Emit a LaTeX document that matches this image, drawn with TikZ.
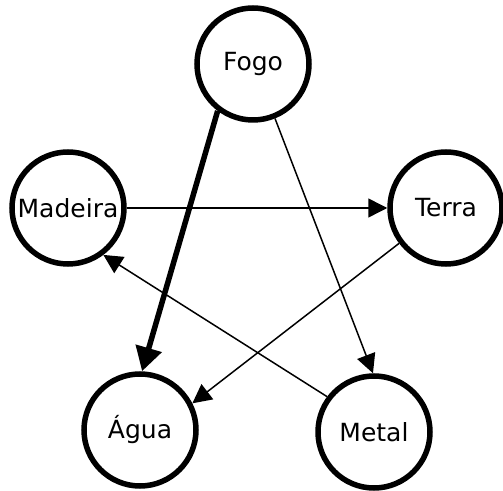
\documentclass[tikz,border=0pt]{standalone}
\usepackage{fontspec}
\setmainfont{DejaVu Sans}
\usetikzlibrary{arrows.meta}

\begin{document}
\begin{tikzpicture}
[x=1pt,y=1pt,
  nodeDecorate/.style={shape=circle,draw,line width=5.5pt,minimum size=112pt,
    inner sep=0pt,font=\fontsize{25}{25}\selectfont},
  lineDecorate/.style={line width=1.5pt,-{Triangle[length=19pt,width=19pt]}},
  thickDecorate/.style={line width=5.5pt,-{Triangle[length=24pt,width=26pt]}}]
\useasboundingbox (0,0) rectangle (503,490);
%% nodes or vertices
\foreach \nodename/\x/\y/\txt in {
  fogo/253/426/Fogo,
  madeira/68/282/Madeira,
  terra/446/282/Terra,
  agua/140/60/Água,
  metal/374/58/Metal}
{
  \node (\nodename) at (\x,\y) [nodeDecorate] {\txt};
}
%% edges or lines
\path
\foreach \startnode/\endnode in {
  fogo.292/metal.91, madeira/terra, terra.217/agua.27, metal.143/madeira.307}
{
  (\startnode) edge[lineDecorate] (\endnode)
}
(fogo.233) edge[thickDecorate] (agua.88);
\end{tikzpicture}
\end{document}
